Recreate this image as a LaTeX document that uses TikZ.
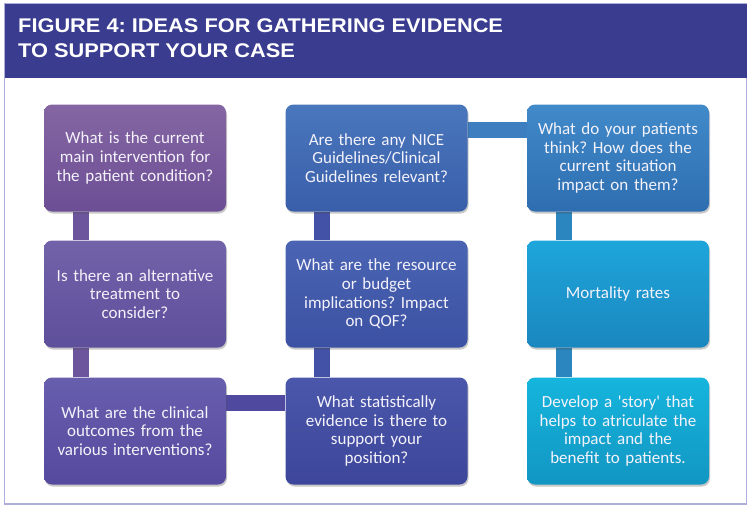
\documentclass[tikz,border=0pt]{standalone}
\usepackage{fontspec}
\newfontfamily\titlefont[FakeStretch=1.1]{Liberation Sans}
\newfontfamily\boxfont{Carlito}
\usetikzlibrary{calc,shadows,backgrounds}
\definecolor{titleC}{HTML}{3A3C8F}
\definecolor{frameC}{HTML}{AEAEDA}
\definecolor{aAt}{HTML}{8566A3}\definecolor{aAb}{HTML}{6C4E95}
\definecolor{aBt}{HTML}{7262A9}\definecolor{aBb}{HTML}{5E4F9C}
\definecolor{aCt}{HTML}{685EAE}\definecolor{aCb}{HTML}{554A9E}
\definecolor{bAt}{HTML}{4977BC}\definecolor{bAb}{HTML}{3A5EAA}
\definecolor{bBt}{HTML}{4A64B3}\definecolor{bBb}{HTML}{3C51A3}
\definecolor{bCt}{HTML}{4A57AA}\definecolor{bCb}{HTML}{3D469A}
\definecolor{cAt}{HTML}{418ACA}\definecolor{cAb}{HTML}{2E6EB0}
\definecolor{cBt}{HTML}{1EA6DB}\definecolor{cBb}{HTML}{1A87BF}
\definecolor{cCt}{HTML}{15B5DD}\definecolor{cCb}{HTML}{1296C2}
\definecolor{lA}{HTML}{6D559E}
\definecolor{lB}{HTML}{4352A6}
\definecolor{lC}{HTML}{2B86BF}
\definecolor{lAB}{HTML}{5049A0}
\definecolor{lBC}{HTML}{3D7EC1}
\definecolor{boxtext}{HTML}{F4F2FA}
\begin{document}
\frenchspacing
\begin{tikzpicture}[x=1pt,y=-1pt,
  ibox/.style 2 args={rectangle,rounded corners=8pt,minimum width=182pt,minimum height=107pt,
    text width=174pt,align=center,inner sep=0pt,
    font=\boxfont\fontsize{17}{18.7}\selectfont\frenchspacing,text=boxtext,
    top color=#1,bottom color=#2,
    drop shadow={shadow xshift=1pt,shadow yshift=-2pt,opacity=0.3,fill=black!70}},
  link/.style={line width=16pt},
  ttl/.style={anchor=base west,inner sep=0pt,text=white,font=\titlefont\bfseries\fontsize{19.8}{24}\selectfont}]
\useasboundingbox (0,0) rectangle (750,507);
% boxes
\node[ibox={aAt}{aAb}] (A1) at (135,158) {What is the current\\ main intervention for\\ the patient condition?};
\node[ibox={aBt}{aBb}] (A2) at (135,294) {Is there an alternative\\ treatment to\\ consider?};
\node[ibox={aCt}{aCb}] (A3) at (135,431) {What are the clinical\\ outcomes from the\\ various interventions?};
\node[ibox={bAt}{bAb}] (B1) at (376.5,158) {Are there any NICE\\ Guidelines/Clinical\\ Guidelines relevant?};
\node[ibox={bBt}{bBb}] (B2) at (376.5,294) {What are the resource\\ or budget\\ implications? Impact\\ on QOF?};
\node[ibox={bCt}{bCb}] (B3) at (376.5,431) {What statistically\\ evidence is there to\\ support your\\ position?};
\node[ibox={cAt}{cAb}] (C1) at (618,158) {What do your patients\\ think? How does the\\ current situation\\ impact on them?};
\node[ibox={cBt}{cBb}] (C2) at (618,294) {Mortality rates};
\node[ibox={cCt}{cCb}] (C3) at (618,431) {Develop a \textquotesingle story\textquotesingle{} that\\ helps to atriculate the\\ impact and the\\ benefit to patients.};
\begin{pgfonlayer}{background}
  \draw[fill=white,draw=frameC,line width=1.5pt] (4.5,3.5) rectangle (746.5,504);
  \fill[titleC] (4.5,3.5) rectangle (747.2,78);
  \draw[link,draw=lA] ($(A1.south west)+(37,0)$) -- ($(A2.north west)+(37,0)$);
  \draw[link,draw=lA] ($(A2.south west)+(37,0)$) -- ($(A3.north west)+(37,0)$);
  \draw[link,draw=lAB] ($(A3.north east)+(0,26)$) -- ($(B3.north west)+(0,26)$);
  \draw[link,draw=lB] ($(B3.north west)+(37,0)$) -- ($(B2.south west)+(37,0)$);
  \draw[link,draw=lB] ($(B2.north west)+(37,0)$) -- ($(B1.south west)+(37,0)$);
  \draw[link,draw=lBC] ($(B1.north east)+(0,26)$) -- ($(C1.north west)+(0,26)$);
  \draw[link,draw=lC] ($(C1.south west)+(37,0)$) -- ($(C2.north west)+(37,0)$);
  \draw[link,draw=lC] ($(C2.south west)+(37,0)$) -- ($(C3.north west)+(37,0)$);
\end{pgfonlayer}
\node[ttl] (T1) at (18,32) {FIGURE 4: IDEAS FOR GATHERING EVIDENCE};
\node[ttl] (T2) at (18,57) {TO SUPPORT YOUR CASE};
\end{tikzpicture}
\end{document}
